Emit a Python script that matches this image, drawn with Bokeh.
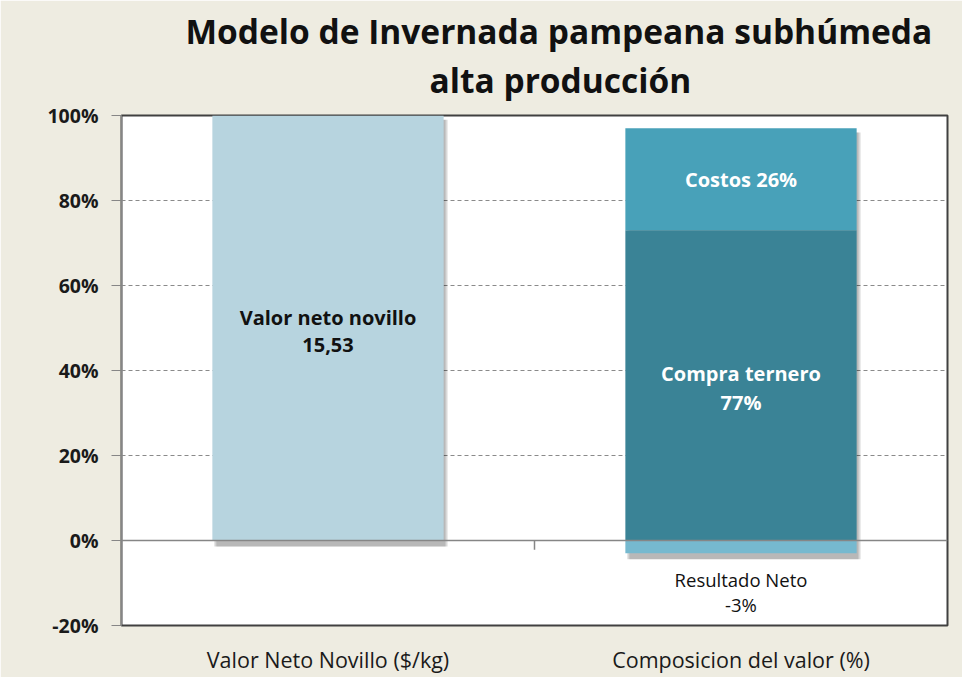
from bokeh.plotting import figure
from bokeh.models import FixedTicker, Span, Title, ColumnDataSource, Range1d, FactorRange
from bokeh.transform import dodge
from bokeh.core.properties import value
from bokeh.embed import file_html
from bokeh.resources import INLINE

# ---- data ----
categories = ["Valor Neto Novillo ($/kg)", "Composicion del valor (%)"]
valor_bar = [100]
valor_text = ["Valor neto novillo\n15,53"]
comp_series = ["Compra ternero", "Costos", "Resultado Neto"]
comp_heights = [73, 24, -3]
comp_pct_labels = ["77%", "26%", "-3%"]
comp_colors = ["#3A8396", "#48A1B9", "#76B9CF"]
y_ticks = [-20, 0, 20, 40, 60, 80, 100]
title_lines = ["Modelo de Invernada pampeana subhúmeda", "alta producción"]

FONT = "Open Sans"

p = figure(width=962, height=677, x_range=FactorRange(*categories), y_range=Range1d(-20, 100),
           output_backend="svg", toolbar_location=None, title=None,
           min_border_left=121, min_border_right=15, min_border_top=115, min_border_bottom=52)
p.border_fill_color = "#EEECE1"
p.background_fill_color = "#FFFFFF"
p.outline_line_color = "#404040"
p.outline_line_width = 2

# title: thin spacer next to the frame, then the two lines
p.add_layout(Title(text=" ", text_font_size="1px", standoff=10), "above")
p.add_layout(Title(text=title_lines[1], align="left", offset=308, text_font=FONT, text_font_style="bold",
                   text_font_size="33.5px", text_color="#111111", standoff=0), "above")
p.add_layout(Title(text=title_lines[0], align="left", offset=64, text_font=FONT, text_font_style="bold",
                   text_font_size="33.5px", text_color="#111111", standoff=2), "above")

# grid
p.xgrid.grid_line_color = None
p.ygrid.ticker = FixedTicker(ticks=[t for t in y_ticks if 0 < t < 100])
p.ygrid.grid_line_color = "#8A8A8A"
p.ygrid.grid_line_dash = "4 3"
p.ygrid.grid_line_width = 1

# y axis
p.yaxis.ticker = FixedTicker(ticks=y_ticks)
p.yaxis.major_label_overrides = {t: f"{t}%" for t in y_ticks}
p.yaxis.major_label_text_font = FONT
p.yaxis.major_label_text_font_style = "bold"
p.yaxis.major_label_text_font_size = "19.5px"
p.yaxis.major_label_text_color = "#1A1A1A"
p.yaxis.axis_line_color = "#868686"
p.yaxis.major_tick_line_color = "#868686"
p.yaxis.major_tick_out = 10
p.yaxis.major_tick_in = 0
p.yaxis.minor_tick_line_color = None
p.yaxis.major_label_standoff = 13

# x axis
p.xaxis.axis_line_color = None
p.xaxis.major_tick_line_color = None
p.xaxis.major_label_text_font = FONT
p.xaxis.major_label_text_font_size = "21.5px"
p.xaxis.major_label_text_color = "#1A1A1A"
p.xaxis.major_label_standoff = 13

# stacked segments for the composition bar
bottoms, tops = [], []
pos = 0.0
neg = 0.0
for h in comp_heights:
    if h >= 0:
        bottoms.append(pos); tops.append(pos + h); pos += h
    else:
        tops.append(neg); bottoms.append(neg + h); neg += h

src_val = ColumnDataSource(dict(x=[categories[0]], top=valor_bar, bottom=[0] * len(valor_bar)))
src_comp = ColumnDataSource(dict(x=[categories[1]] * len(comp_heights), top=tops, bottom=bottoms,
                                 color=comp_colors))
src_shadow = ColumnDataSource(dict(x=categories,
                                   top=[valor_bar[0] - 1.0, max(tops) - 1.0],
                                   bottom=[-1.4, min(bottoms) - 1.4]))

BW = 0.56
# soft shadows
for off, alpha in [(0.010, 0.10), (0.007, 0.10), (0.004, 0.10)]:
    p.vbar(x=dodge("x", off, range=p.x_range), top="top", bottom="bottom", width=BW, source=src_shadow,
           fill_color="#000000", fill_alpha=alpha, line_color=None)

# bars
p.vbar(x="x", top="top", bottom="bottom", width=BW, source=src_val,
       fill_color="#B7D4DF", line_color=None)
p.vbar(x="x", top="top", bottom="bottom", width=BW, source=src_comp,
       fill_color="color", line_color=None)

# zero line and category separator tick
p.add_layout(Span(location=0, dimension="width", line_color="#868686", line_width=1.5))
p.segment(x0=[1.0], x1=[1.0], y0=[0], y1=[-2.2], line_color="#868686", line_width=1.5)

# labels inside bars
p.text(x=[categories[0]], y=[(valor_bar[0]) / 2 - 0.7], text=valor_text,
       text_align="center", text_baseline="middle", text_font=value(FONT),
       text_font_style="bold", text_font_size="20px", text_color="#111111", text_line_height=1.0)

comp_text = [f"{s}\n{l}" for s, l in zip(comp_series, comp_pct_labels)]
comp_text[1] = f"{comp_series[1]} {comp_pct_labels[1]}"
mid = [(t + b) / 2 for t, b in zip(tops, bottoms)]
mid[2] = bottoms[2] - 9.1
colors_txt = ["#FFFFFF", "#FFFFFF", "#111111"]
weights = ["bold", "bold", "normal"]
line_h = [1.07, 1.0, 1.0]
for i in range(3):
    p.text(x=[categories[1]], y=[mid[i] - (0.6 if i == 0 else 0)], text=[comp_text[i]],
           text_align="center", text_baseline="middle", text_font=value(FONT),
           text_font_style=weights[i], text_font_size="20px" if i < 2 else "18.5px",
           text_color=colors_txt[i], text_line_height=line_h[i])

open("out.html", "w").write(file_html(p, INLINE))
